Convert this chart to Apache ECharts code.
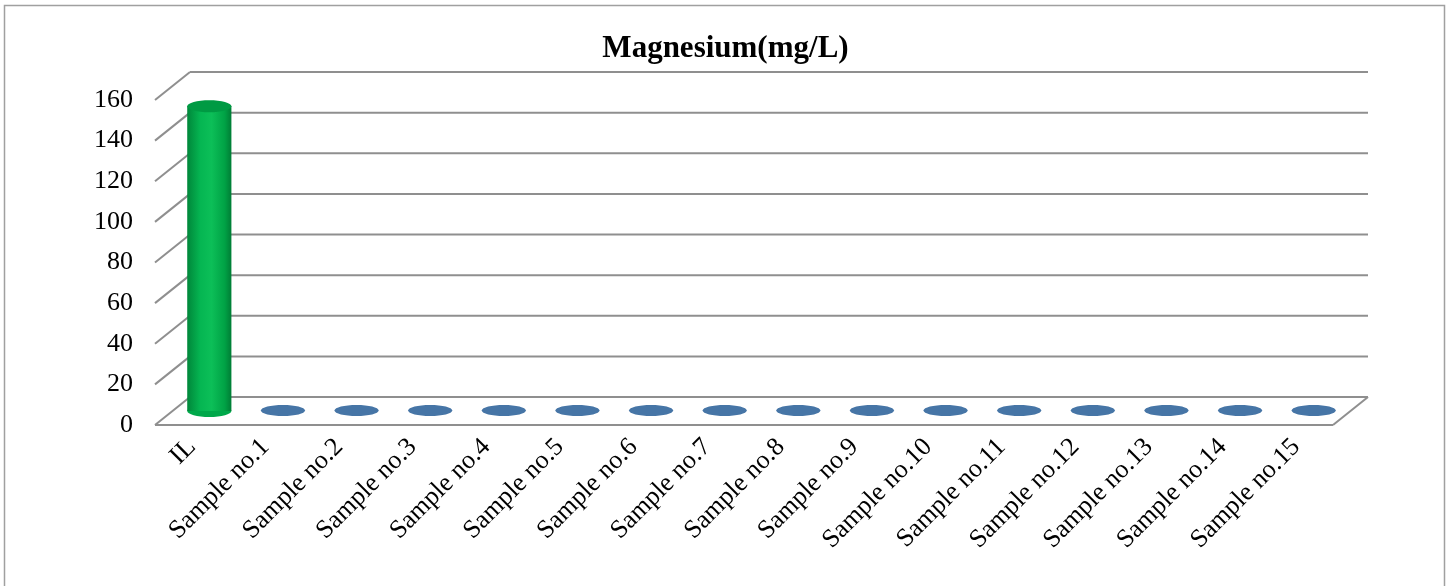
<!DOCTYPE html>
<html>
<head>
<meta charset="utf-8">
<script src="https://cdn.jsdelivr.net/npm/echarts@6/dist/echarts.min.js"></script>
<style>
html,body{margin:0;padding:0;background:#fff;}
#chart{width:1451px;height:586px;}
</style>
</head>
<body>
<div id="chart"></div>
<script>
const categories = ['IL','Sample no.1','Sample no.2','Sample no.3','Sample no.4','Sample no.5','Sample no.6','Sample no.7','Sample no.8','Sample no.9','Sample no.10','Sample no.11','Sample no.12','Sample no.13','Sample no.14','Sample no.15'];
const magnesium = [150, 0.3, 0.3, 0.3, 0.3, 0.3, 0.3, 0.3, 0.3, 0.3, 0.3, 0.3, 0.3, 0.3, 0.3, 0.3];
const yTicks = [0, 20, 40, 60, 80, 100, 120, 140, 160];
const titleText = 'Magnesium(mg/L)';

const DX = 35, DY = -28;   // depth offset of the 3D back wall
const GRID_COLOR = '#8f8f8f';
const FONT = '"Liberation Serif","Times New Roman",serif';

const chart = echarts.init(document.getElementById('chart'), null, {renderer: 'canvas'});

function wallItem(params, api) {
  const cs = params.coordSys;
  const v = api.value(1);
  const y = api.coord([0, v])[1];
  const children = [];
  const st = {stroke: GRID_COLOR, lineWidth: 2};
  children.push({type: 'line', shape: {x1: cs.x + DX, y1: y + DY, x2: cs.x + cs.width + DX, y2: y + DY}, style: st});
  children.push({type: 'line', shape: {x1: cs.x, y1: y, x2: cs.x + DX, y2: y + DY}, style: st});
  if (v === 0) {
    children.push({type: 'line', shape: {x1: cs.x, y1: y, x2: cs.x + cs.width, y2: y}, style: st});
    children.push({type: 'line', shape: {x1: cs.x + cs.width, y1: y, x2: cs.x + cs.width + DX, y2: y + DY}, style: st});
  }
  return {type: 'group', children: children};
}

function cylItem(params, api) {
  const idx = api.value(0);
  const val = api.value(1);
  const c0 = api.coord([idx, 0]);
  const c1 = api.coord([idx, val]);
  const band = api.size([1, 0])[0];
  const rx = band * 0.3;
  const cx = c0[0] + DX / 2;
  const yb = c0[1] + DY / 2;
  const yt = c1[1] + DY / 2;
  const isGreen = idx === 0;
  const children = [];
  if (isGreen) {
    const ry = 6;
    children.push({type: 'ellipse', shape: {cx: cx, cy: yb, rx: rx, ry: ry},
      style: {fill: '#00a84a'}});
    children.push({type: 'rect', shape: {x: cx - rx, y: yt, width: rx * 2, height: yb - yt},
      style: {fill: new echarts.graphic.LinearGradient(0, 0, 1, 0, [
        {offset: 0, color: '#00873a'},
        {offset: 0.3, color: '#05b652'},
        {offset: 0.55, color: '#0cbf58'},
        {offset: 0.85, color: '#00a245'},
        {offset: 1, color: '#007d35'}
      ])}});
    children.push({type: 'ellipse', shape: {cx: cx, cy: yt, rx: rx, ry: ry},
      style: {fill: '#009a43'}});
  } else {
    const ry = 5.5;
    children.push({type: 'ellipse', shape: {cx: cx, cy: yt, rx: rx, ry: ry},
      style: {fill: '#4675a6'}});
  }
  return {type: 'group', children: children};
}

const option = {
  backgroundColor: '#ffffff',
  animation: false,
  title: {
    text: titleText,
    left: 'center',
    top: 28,
    textStyle: {fontFamily: FONT, fontSize: 31, fontWeight: 'bold', color: '#000'}
  },
  graphic: [{
    type: 'rect',
    shape: {x: 4.5, y: 5.5, width: 1440, height: 620},
    style: {fill: 'none', stroke: '#a0a0a0', lineWidth: 1.5},
    silent: true
  }],
  grid: {left: 155, right: 118, top: 100, bottom: 161, containLabel: false},
  xAxis: {
    type: 'category',
    data: categories,
    axisLine: {show: false},
    axisTick: {show: false},
    splitLine: {show: false},
    axisLabel: {
      interval: 0,
      rotate: 45,
      margin: 18,
      fontFamily: FONT,
      fontSize: 26,
      color: '#000'
    }
  },
  yAxis: {
    type: 'value',
    min: 0,
    max: 160,
    interval: 20,
    axisLine: {show: false},
    axisTick: {show: false},
    splitLine: {show: false},
    axisLabel: {fontFamily: FONT, fontSize: 26, color: '#000', margin: 22}
  },
  series: [
    {
      type: 'custom',
      z: 1,
      silent: true,
      renderItem: wallItem,
      data: yTicks.map(v => [0, v])
    },
    {
      type: 'custom',
      z: 5,
      renderItem: cylItem,
      data: magnesium.map((v, i) => [i, v])
    }
  ]
};
chart.setOption(option);
</script>
</body>
</html>
